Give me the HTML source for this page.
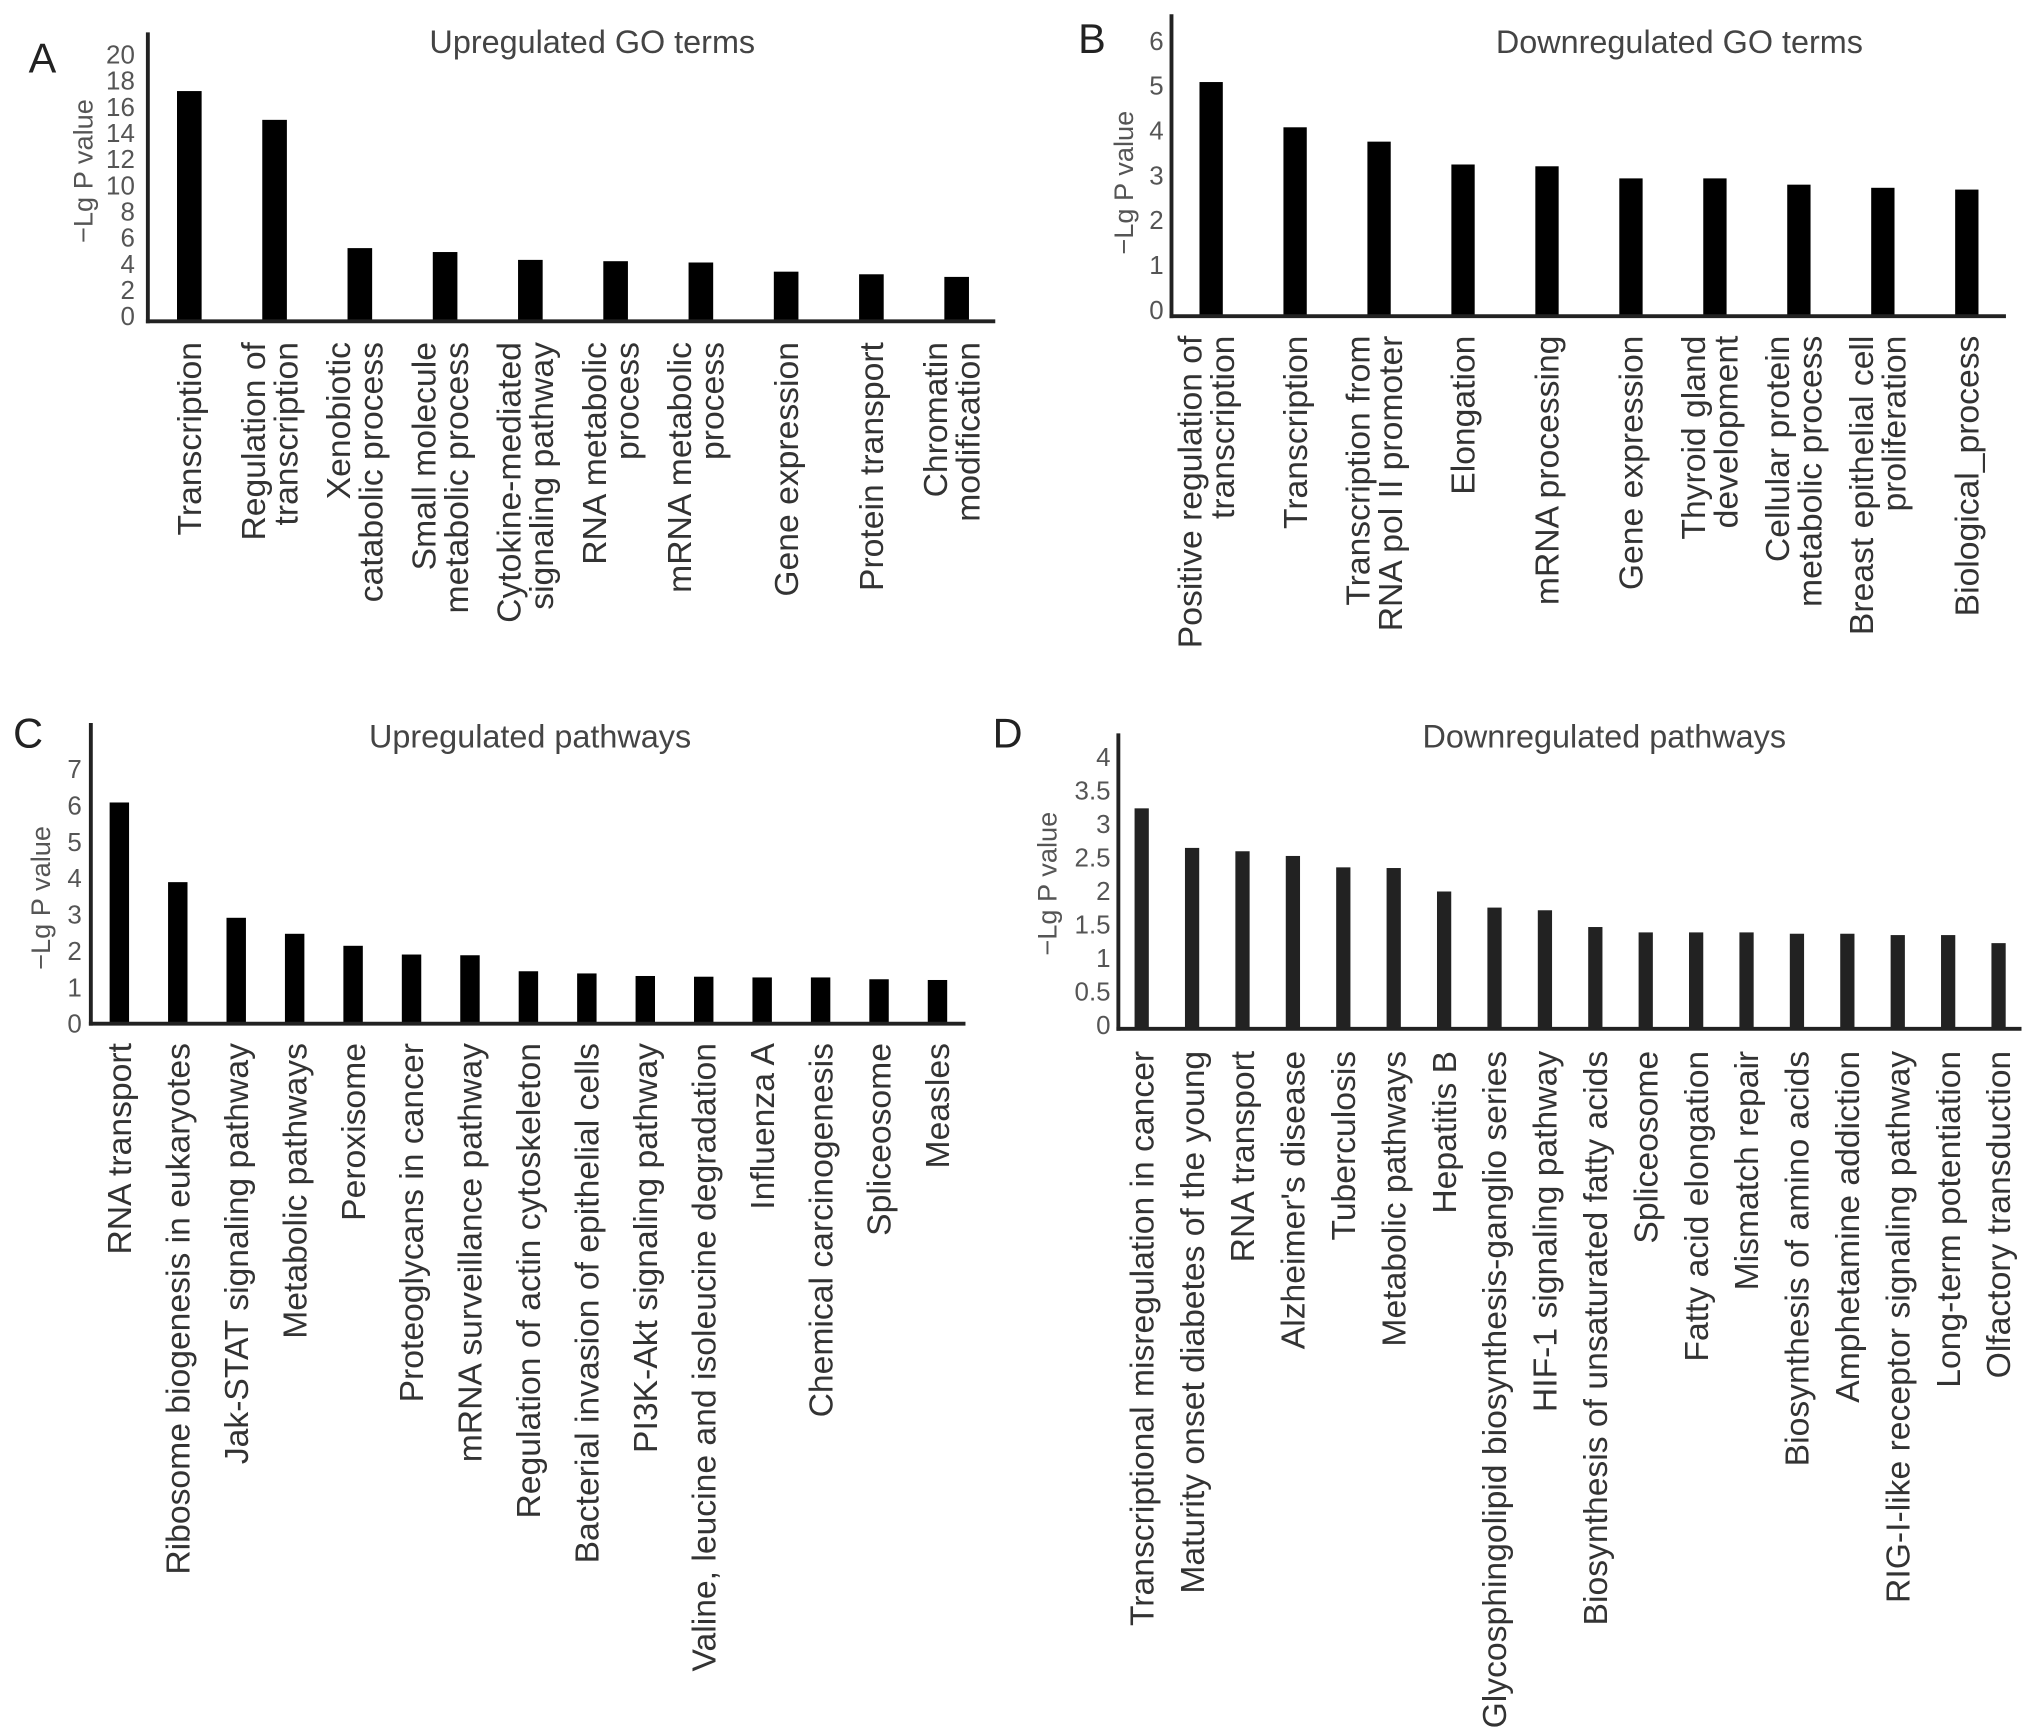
<!DOCTYPE html>
<html><head><meta charset="utf-8"><style>
html,body{margin:0;padding:0;background:#fff;}
svg{display:block;font-family:"Liberation Sans",sans-serif;}
</style></head><body>
<svg id="fig" width="2032" height="1735" viewBox="0 0 1568 1339" xmlns="http://www.w3.org/2000/svg">
<rect width="1568" height="1339" fill="#fff"/>
</svg>
<script>
const aCats=["Transcription","Regulation of\ntranscription","Xenobiotic\ncatabolic process","Small molecule\nmetabolic process","Cytokine-mediated\nsignaling pathway","RNA metabolic\nprocess","mRNA metabolic\nprocess","Gene expression","Protein transport","Chromatin\nmodification"];
const aVals=[17.2,15.0,5.2,4.9,4.3,4.2,4.1,3.4,3.2,3.0];
const aTicks=[0,2,4,6,8,10,12,14,16,18,20];

const bCats=["Positive regulation of\ntranscription","Transcription","Transcription from\nRNA pol II promoter","Elongation","mRNA processing","Gene expression","Thyroid gland\ndevelopment","Cellular protein\nmetabolic process","Breast epithelial cell\nproliferation","Biological_process"];
const bVals=[5.08,4.07,3.75,3.24,3.2,2.93,2.93,2.79,2.72,2.68];
const bTicks=[0,1,2,3,4,5,6];

const cCats=["RNA transport","Ribosome biogenesis in eukaryotes","Jak-STAT signaling pathway","Metabolic pathways","Peroxisome","Proteoglycans in cancer","mRNA surveillance pathway","Regulation of actin cytoskeleton","Bacterial invasion of epithelial cells","PI3K-Akt signaling pathway","Valine, leucine and isoleucine degradation","Influenza A","Chemical carcinogenesis","Spliceosome","Measles"];
const cVals=[6.08,3.89,2.91,2.47,2.14,1.90,1.88,1.44,1.38,1.31,1.29,1.27,1.27,1.22,1.20];
const cTicks=[0,1,2,3,4,5,6,7];

const dCats=["Transcriptional misregulation in cancer","Maturity onset diabetes of the young","RNA transport","Alzheimer's disease","Tuberculosis","Metabolic pathways","Hepatitis B","Glycosphingolipid biosynthesis-ganglio series","HIF-1 signaling pathway","Biosynthesis of unsaturated fatty acids","Spliceosome","Fatty acid elongation","Mismatch repair","Biosynthesis of amino acids","Amphetamine addiction","RIG-I-like receptor signaling pathway","Long-term potentiation","Olfactory transduction"];
const dVals=[3.23,2.64,2.59,2.52,2.35,2.34,1.99,1.75,1.71,1.46,1.38,1.38,1.38,1.36,1.36,1.34,1.34,1.22];
const dTicks=[0,0.5,1,1.5,2,2.5,3,3.5,4];

const NS="http://www.w3.org/2000/svg";
const svg=document.getElementById('fig');
function mk(tag,attrs,parent){const e=document.createElementNS(NS,tag);for(const k in attrs)e.setAttribute(k,attrs[k]);(parent||svg).appendChild(e);return e;}

function panel(cfg,cats,vals,ticks){
  const g=mk('g',{});
  
  
  const tmax=ticks[ticks.length-1];
  const y=v=>cfg.y0+(cfg.yTop-cfg.y0)*v/tmax;
  const x=i=>cfg.x0+i*cfg.step;
  const L=mk('text',{x:cfg.letterX,y:cfg.letterY,'font-size':32,fill:'#222'},g);L.textContent=cfg.letter;
  
  
  const T=mk('text',{x:cfg.titleX,y:cfg.titleY,'font-size':25,fill:'#444','text-anchor':'middle'},g);T.textContent=cfg.title;
  
  
  const yt=mk('text',{transform:`translate(${cfg.ytX},${cfg.ytY}) rotate(-90)`,'font-size':21,fill:'#555','text-anchor':'middle','dominant-baseline':'central'},g);yt.textContent='\u2212Lg P value';
  
  
  ticks.forEach(t=>{
    const e=mk('text',{x:cfg.tickX,y:y(t)+7,'font-size':20,fill:'#555','text-anchor':'end'},g);e.textContent=String(t);
    
    
  });
  vals.forEach((v,i)=>{
    const r=mk('rect',{x:x(i)-cfg.bw/2,y:y(v),width:cfg.bw,height:cfg.base-y(v),fill:cfg.color},g);
    
    
  });
  const ya=mk('line',{x1:cfg.axX,y1:cfg.axTop,x2:cfg.axX,y2:cfg.base+1.5,stroke:'#222','stroke-width':3},g);
  
  
  const xa=mk('line',{x1:cfg.axX-1.5,y1:cfg.base,x2:cfg.axEnd,y2:cfg.base,stroke:'#222','stroke-width':3},g);
  
  
  cats.forEach((c,i)=>{
    const lines=c.split('\n');const n=lines.length;
    const t=mk('text',{transform:`translate(${x(i)},${cfg.labTop}) rotate(-90)`,'font-size':26,fill:'#333','text-anchor':'end'},g);
    
    
    lines.forEach((ln,j)=>{
      const s=mk('tspan',{x:0,y:(j-(n-1)/2)*25+9-(n>1?4:0)},t);s.textContent=ln;
    });
  });
}
panel({id:'a',letter:'A',letterX:22,letterY:56,title:'Upregulated GO terms',titleX:457,titleY:41,ytX:64,ytY:132,tickX:104,
  y0:244,yTop:42,x0:146,step:65.8,bw:19,base:248,axX:114,axTop:25,axEnd:768,labTop:264,color:'#000'},aCats,aVals,aTicks);
panel({id:'b',letter:'B',letterX:832,letterY:41,title:'Downregulated GO terms',titleX:1296,titleY:41,ytX:867,ytY:141,tickX:898,
  y0:239,yTop:31.5,x0:934.6,step:64.8,bw:18,base:244,axX:904,axTop:11,axEnd:1548,labTop:259,color:'#000'},bCats,bVals,bTicks);
panel({id:'c',letter:'C',letterX:10,letterY:577,title:'Upregulated pathways',titleX:409,titleY:577,ytX:31,ytY:693,tickX:63,
  y0:790,yTop:593.5,x0:92,step:45.1,bw:15,base:790,axX:70,axTop:558,axEnd:745,labTop:805,color:'#000'},cCats,cVals,cTicks);
panel({id:'d',letter:'D',letterX:766,letterY:577,title:'Downregulated pathways',titleX:1238,titleY:577,ytX:808,ytY:682,tickX:857,
  y0:791,yTop:584,x0:881,step:38.9,bw:11,base:794,axX:863,axTop:566,axEnd:1560,labTop:811,color:'#222'},dCats,dVals,dTicks);
</script>
</body></html>
